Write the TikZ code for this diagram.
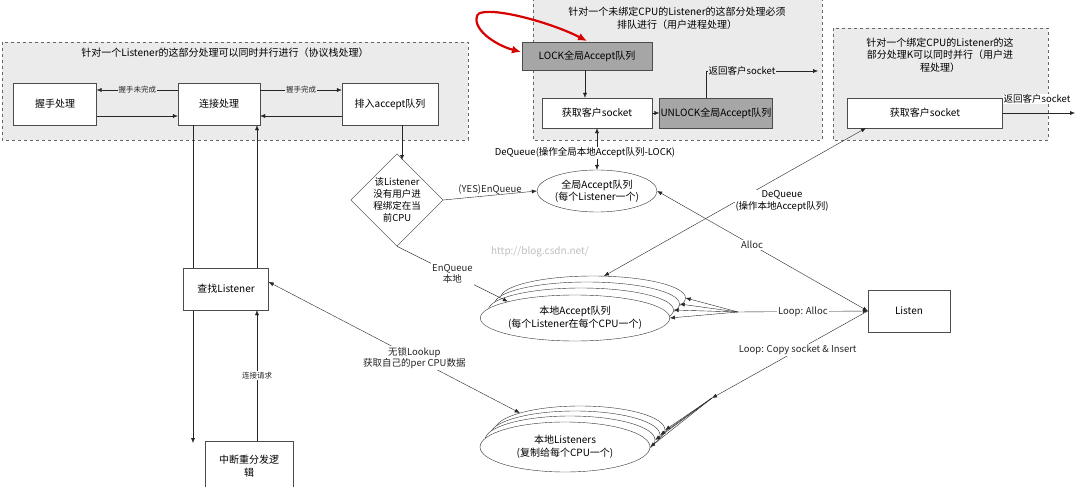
\documentclass[tikz,border=0pt]{standalone}
\usepackage{fontspec}
\setmainfont{Noto Sans CJK SC}
\usetikzlibrary{shapes.geometric,arrows.meta}
\begin{document}
\begin{tikzpicture}[x=1pt,y=-1pt,
  every node/.style={font=\fontsize{10}{12.5}\selectfont},
  box/.style={draw=black!70,fill=white,minimum height=42pt,align=center,inner sep=1pt},
  gbox/.style={box,fill=black!35,minimum height=28pt},
  grp/.style={draw=black!60,dashed,fill=black!8,line width=0.8pt},
  ell/.style={ellipse,draw=black!80,fill=white,align=center,inner sep=0pt},
  arr/.style={-{Latex[length=5pt,width=4pt]},black!85},
  darr/.style={{Latex[length=5pt,width=4pt]}-{Latex[length=5pt,width=4pt]},black!85},
  lbl/.style={fill=white,inner sep=1pt,font=\fontsize{9.5}{11.5}\selectfont},
  slbl/.style={lbl,fill=black!8,font=\fontsize{7.5}{9}\selectfont}]
\useasboundingbox (0,0) rectangle (1080,487);
\fill[white] (0,0) rectangle (1080,487);
% groups
\draw[grp] (2,42) rectangle (468,140);
\node (t1) at (225,53) {针对一个Listener的这部分处理可以同时并行进行（协议栈处理）};
\draw[grp] (533,-2) rectangle (822,140);
\node[align=center] (t2) at (677,18) {针对一个未绑定CPU的Listener的这部分处理必须\\排队进行（用户进程处理）};
\draw[grp] (833,28) rectangle (1048,140);
\node[align=center] (t3) at (940,55) {针对一个绑定CPU的Listener的这\\部分处理K可以同时并行（用户进\\程处理）};
% left boxes
\node[box,minimum width=83pt] (hs) at (55,104) {握手处理};
\node[box,minimum width=82pt] (cn) at (219,104) {连接处理};
\node[box,minimum width=96pt] (aq) at (390,104) {排入accept队列};
\draw[arr] (cn.west|-0,90) -- node[slbl]{握手未完成} (hs.east|-0,90);
\draw[arr] (hs.east|-0,116) -- (cn.west|-0,116);
\draw[arr] (cn.east|-0,90) -- node[slbl]{握手完成} (aq.west|-0,90);
\draw[arr] (aq.west|-0,116) -- (cn.east|-0,116);
% middle boxes
\node[gbox,minimum width=130pt] (lock) at (587,56) {LOCK全局Accept队列};
\node[box,minimum width=110pt,minimum height=30pt] (get1) at (597,113) {获取客户socket};
\node[gbox,minimum width=112pt,minimum height=30pt] (unl) at (716,113) {UNLOCK全局Accept队列};
\draw[arr] (lock.south-|585,0) -- (get1.north-|585,0);
\draw[arr] (get1) -- (unl);
\coordinate (r1) at (818,71);
\draw[arr] (unl.north-|706,0) -- (706,71) -- (r1);
\node[lbl,fill=black!8] (rl1) at (742,71) {返回客户socket};
\draw[red!85!black,line width=2.2pt,-{Latex[length=9pt,width=8pt]}] (478,14) .. controls (490,6) and (550,22) .. (587,41);
\draw[red!85!black,line width=2.2pt,-{Latex[length=9pt,width=8pt]}] (478,14) .. controls (470,28) and (495,45) .. (521,52);
% right box
\node[box,minimum width=155pt,minimum height=30pt] (get2) at (925,113) {获取客户socket};
\coordinate (r2) at (1075,113);
\draw[arr] (get2) -- (r2);
\node[lbl] (rl2) at (1037,99) {返回客户socket};
% diamond
\node[diamond,draw=black!80,fill=white,minimum width=92pt,minimum height=82pt,inner sep=0pt,align=center,font=\fontsize{9.5}{12}\selectfont] (dm) at (397,200) {该Listener\\没有用户进\\程绑定在当\\前CPU};
\draw[arr] (aq.south-|402,0) -- (402,160);
% global ellipse
\node[ell,minimum width=120pt,minimum height=42pt] (ga) at (597,191) {全局Accept队列\\(每个Listener一个)};
\draw[arr] (dm.east) -- node[lbl,above=0pt,fill=none]{(YES)EnQueue} (ga.west);
\draw[darr] (get1.south) -- (ga.north);
\node[lbl] (dq1) at (585,153) {DeQueue(操作全局本地Accept队列-LOCK)};
\node[text=black!25,font=\fontsize{10}{12}\selectfont] (wm) at (540,252) {http://blog.csdn.net/};
% local accept stack
\foreach \i/\dx in {3/18,2/12,1/6}{
  \node[ell,minimum width=185pt,minimum height=44pt] (la\i) at (575+\dx,316-\dx) {};}
\node[ell,minimum width=185pt,minimum height=46pt] (la0) at (575,318) {本地Accept队列\\(每个Listener在每个CPU一个)};
% Listen
\node[box,minimum width=82pt] (ls) at (909,311) {Listen};
\coordinate (fa) at (738,312);
\draw[arr] (fa) -- node[lbl]{Loop: Alloc} (ls.west);
\foreach \i in {0,1,2,3}{\draw[arr] (fa) -- (la\i.east);}
\draw[darr] (ls.west) -- node[lbl,pos=0.55]{Alloc} (ga.east);
\draw[darr] (604,276) -- (866,128);
\node[lbl,align=center] (dq2) at (782,201) {DeQueue\\(操作本地Accept队列)};
\draw[arr] (dm.south) -- node[lbl,align=center,pos=0.5]{EnQueue\\本地} (la0.north west);
% left column
\node[box,minimum width=85pt] (fl) at (226,289) {查找Listener};
\node[box,minimum width=88pt,minimum height=50pt] (ir) at (249,466) {中断重分发逻\\辑};
\coordinate (dn) at (193,443);
\draw[arr] (cn.south-|193,0) -- (dn);
\node[box,minimum width=85pt] at (226,289) {查找Listener};
\draw[arr] (fl.north-|257,0) -- (cn.south-|257,0);
\draw[arr] (ir.north-|257,0) -- node[slbl,fill=white]{连接请求} (fl.south-|257,0);
% local listeners
\foreach \i/\dx in {3/15,2/10,1/5}{
  \node[ell,minimum width=170pt,minimum height=48pt] (ll\i) at (565+\dx,445-\dx) {};}
\node[ell,minimum width=170pt,minimum height=50pt] (ll0) at (565,447) {本地Listeners\\(复制给每个CPU一个)};
\draw[darr] (fl.east|-0,282) -- node[lbl,align=center,pos=0.58]{无锁Lookup\\获取自己的per CPU数据} (ll3.north west);
\coordinate (fb) at (712,398);
\draw[arr] (ls.west) -- node[lbl,pos=0.45]{Loop: Copy socket \& Insert} (fb);
\foreach \i in {0,1,2,3}{\draw[arr] (fb) -- (ll\i.east);}
\end{tikzpicture}
\end{document}
